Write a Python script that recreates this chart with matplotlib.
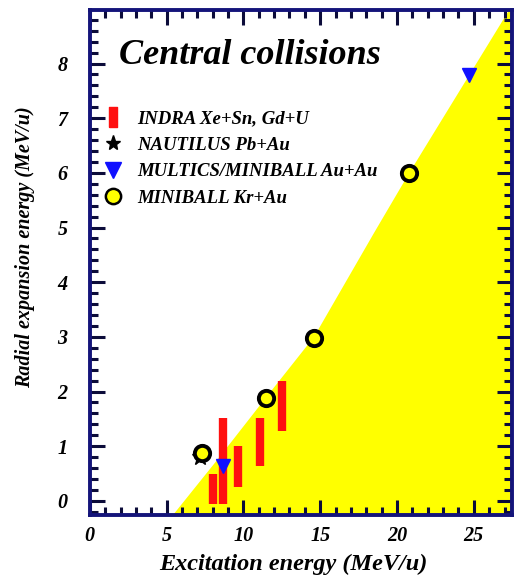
"""Central collisions: radial expansion energy vs excitation energy."""

import matplotlib

matplotlib.use("Agg")
import matplotlib.pyplot as plt
from matplotlib.lines import Line2D
from matplotlib.ticker import MultipleLocator

# ---------------------------------------------------------------------------
# Data
# ---------------------------------------------------------------------------
indra_x = [8.0, 8.7, 9.65, 11.1, 12.5]
indra_lo = [-0.05, -0.05, 0.26, 0.64, 1.27]
indra_hi = [0.49, 1.52, 1.0, 1.52, 2.2]

nautilus_x = [7.2]
nautilus_y = [0.8]

multics_x = [8.7, 24.7]
multics_y = [0.63, 7.79]

miniball_x = [7.3, 11.5, 14.6, 20.8]
miniball_y = [0.87, 1.89, 2.98, 6.0]

# boundary of the yellow (allowed) region
edge_x = [5.3, 8.3, 11.5, 14.6, 18.5, 20.8, 28.0]
edge_y = [-0.3, 0.75, 1.9, 3.0, 4.9, 6.0, 9.3]

XLIM = (0, 27.5)
YLIM = (-0.25, 8.98)

NAVY = "#14147a"
TICK = "#0c0c3a"
FONT = dict(family="Liberation Serif", weight="bold", style="italic")

fig = plt.figure(figsize=(5.19, 5.84), dpi=100)
ax = fig.add_axes([0.173, 0.119, 0.814, 0.864])

# yellow region to the right of the boundary (clipped by the axes)
ax.fill(edge_x + [30, 30], edge_y + [10, -1], color="#ffff00", lw=0,
        zorder=0)

# INDRA ranges as thick red bars
ax.vlines(indra_x, indra_lo, indra_hi, color="#ff1010", lw=6, zorder=2)

ax.plot(nautilus_x, nautilus_y, ls="none", marker="*", ms=12,
        color="black", zorder=3)
ax.plot(multics_x, multics_y, ls="none", marker="v", ms=10,
        color="#1010ff", mec="#1010ff", zorder=4)
ax.plot(miniball_x, miniball_y, ls="none", marker="o", ms=11,
        mfc="#ffff00", mec="black", mew=2.8, zorder=5)

ax.set_xlim(*XLIM)
ax.set_ylim(*YLIM)

ax.xaxis.set_major_locator(MultipleLocator(5))
ax.xaxis.set_minor_locator(MultipleLocator(1))
ax.yaxis.set_major_locator(MultipleLocator(1))
ax.yaxis.set_minor_locator(MultipleLocator(0.2))
ax.tick_params(which="both", direction="in", top=True, right=True,
               color=TICK, width=2.2)
ax.tick_params(which="major", length=11, labelsize=14.5)
ax.tick_params(axis="y", which="major", pad=16)
ax.tick_params(axis="x", which="major", pad=8)
ax.tick_params(which="minor", length=6)
for lab in ax.get_xticklabels() + ax.get_yticklabels():
    lab.set(**FONT)

for sp in ax.spines.values():
    sp.set_color(NAVY)
    sp.set_linewidth(2.8)

ax.set_xlabel("Excitation energy (MeV/u)", fontsize=17.5, **FONT)
ax.xaxis.set_label_coords(0.483, -0.078)
ax.set_ylabel("Radial expansion energy (MeV/u)", fontsize=14.5, **FONT)
ax.yaxis.set_label_coords(-0.13, 0.53)

ax.text(0.068, 0.91, "Central collisions", transform=ax.transAxes,
        fontsize=26, ha="left", va="center", **FONT)

bar_marker = [(-0.35, -1), (0.35, -1), (0.35, 1), (-0.35, 1), (-0.35, -1)]
handles = [
    Line2D([], [], ls="none", marker=bar_marker, ms=15, color="#ff1010"),
    Line2D([], [], ls="none", marker="*", ms=11, color="black"),
    Line2D([], [], ls="none", marker="v", ms=11, color="#1010ff"),
    Line2D([], [], ls="none", marker="o", ms=11, mfc="#ffff00", mec="black",
           mew=1.8),
]
labels = [
    "INDRA Xe+Sn, Gd+U",
    "NAUTILUS Pb+Au",
    "MULTICS/MINIBALL Au+Au",
    "MINIBALL Kr+Au",
]
leg = ax.legend(handles, labels, loc="upper left",
                bbox_to_anchor=(-0.007, 0.835), frameon=False,
                handlelength=1.0, handletextpad=0.8, labelspacing=0.5,
                prop=dict(family="Liberation Serif", weight="bold",
                          style="italic", size=13.5))

fig.savefig("out.png", dpi=100)
